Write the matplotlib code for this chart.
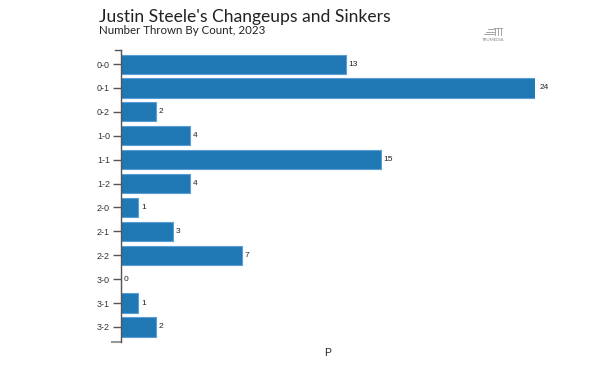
import matplotlib
matplotlib.use("Agg")
import matplotlib.pyplot as plt

counts = ["0-0", "0-1", "0-2", "1-0", "1-1", "1-2", "2-0", "2-1", "2-2", "3-0", "3-1", "3-2"]
values = [13, 24, 2, 4, 15, 4, 1, 3, 7, 0, 1, 2]

plt.rcParams['font.family'] = ['Lato', 'DejaVu Sans']

W, H = 600, 375
fig = plt.figure(figsize=(6, 3.75), dpi=100)
L, R, T, B = 121, 535, 50, 342
ax = fig.add_axes([L / W, 1 - B / H, (R - L) / W, (B - T) / H])

y = list(range(len(counts)))
ax.barh(y, values, height=0.8, color='#1f77b4', edgecolor='#5a9fd4', linewidth=0.8)
for yi, v in zip(y, values):
    ax.text(v + 0.15, yi, str(v), va='center', ha='left', fontsize=6, color='#222222',
            family=['Liberation Sans', 'DejaVu Sans'])

ax.set_xlim(0, 23.9)
ax.set_ylim(11.63, -0.59)
ax.set_yticks(y)
ax.set_yticklabels(counts, family=['Liberation Sans', 'DejaVu Sans'])
ax.tick_params(axis='y', length=6, width=1, color='#555555', labelsize=6.5, labelcolor='#333333', pad=2)
ax.set_xticks([])
for s in ['top', 'right', 'bottom']:
    ax.spines[s].set_visible(False)
ax.spines['left'].set_color('#555555')
ax.spines['left'].set_linewidth(1)
tick_frac = 6 / (R - L)
ax.plot([-tick_frac, 0], [1, 1], transform=ax.transAxes, color='#555555', lw=1, clip_on=False)
ax.plot([-tick_frac * 1.5, 0], [0, 0], transform=ax.transAxes, color='#999999', lw=1.5, clip_on=False)

fig.text(99 / W, 1 - 17 / H, "Justin Steele's Changeups and Sinkers", fontsize=12.6, color='#222222',
         va='center', ha='left')
fig.text(99 / W, 1 - 31 / H, "Number Thrown By Count, 2023", fontsize=8.3, color='#222222', va='center', ha='left')
fig.text(328 / W, 1 - 353 / H, "P", fontsize=7.5, color='#222222', va='center', ha='center',
         family=['Liberation Sans', 'DejaVu Sans'])

# small logo
fig.text(493 / W, 1 - 40 / H, "TRUMEDIA", fontsize=3.2, color='#888888', va='center', ha='center')
for dy, x0 in [(29, 488), (31.5, 486), (34, 484)]:
    fig.add_artist(plt.Line2D([x0 / W, 494 / W], [1 - dy / H, 1 - dy / H], color='#999999', lw=0.6))
fig.add_artist(plt.Line2D([494 / W, 502 / W], [1 - 28 / H, 1 - 28 / H], color='#999999', lw=0.6))
for xx in [495, 498, 501]:
    fig.add_artist(plt.Line2D([xx / W, xx / W], [1 - 28 / H, 1 - 35 / H], color='#999999', lw=0.6))

fig.savefig("out.png", dpi=100, facecolor='white')
